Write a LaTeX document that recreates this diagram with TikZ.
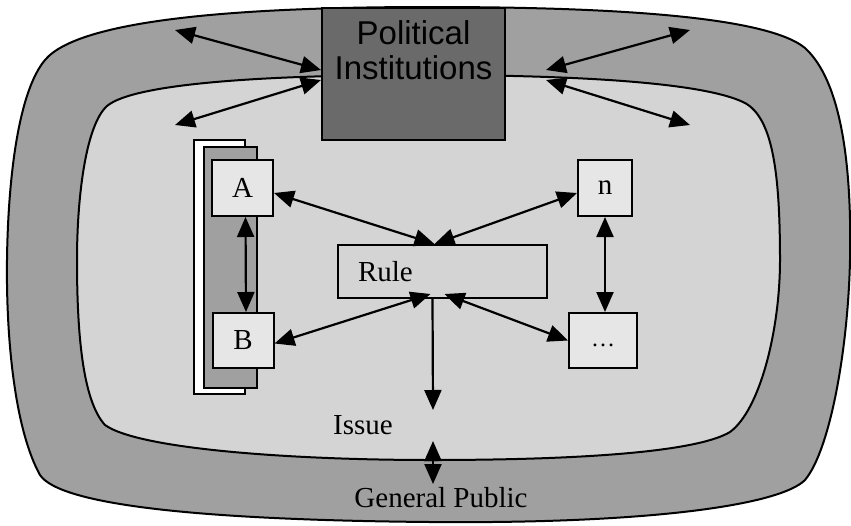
\documentclass[tikz,border=0pt]{standalone}
\usepackage{fontspec}
\setmainfont{Liberation Serif}
\newfontfamily\arialfont{Liberation Sans}
\usetikzlibrary{arrows.meta}
\definecolor{ringgray}{HTML}{A0A0A0}
\definecolor{innergray}{HTML}{D4D4D4}
\definecolor{boxgray}{HTML}{E6E6E6}
\definecolor{polgray}{HTML}{6A6A6A}

\begin{document}
\begin{tikzpicture}[
  x=1pt,y=-1pt,
  every node/.style={font=\fontsize{29}{33}\selectfont},
  actor/.style={draw,line width=2pt,fill=boxgray,minimum width=61pt,minimum height=56pt,inner sep=0pt},
  link/.style={{Triangle[length=20pt,width=17pt]}-{Triangle[length=20pt,width=17pt]},line width=2.2pt},
  oneway/.style={-{Triangle[length=20pt,width=17pt]},line width=2.2pt},
  rim/.style={draw,line width=2pt}
]
  \useasboundingbox (0,0) rectangle (851,525);

  % general public ring
  \path[rim,fill=ringgray] (430,7) .. controls (250,7) and (80,18) .. (45,60)
    .. controls (18,92) and (8,180) .. (7,260)
    .. controls (6,340) and (15,430) .. (40,475)
    .. controls (60,505) and (200,520) .. (430,522)
    .. controls (650,524) and (780,505) .. (805,480)
    .. controls (830,450) and (848,350) .. (850,260)
    .. controls (852,160) and (840,80) .. (805,48)
    .. controls (765,15) and (600,7) .. (430,7);
  % issue area
  \path[rim,fill=innergray] (420,75) .. controls (250,75) and (125,85) .. (105,108)
    .. controls (85,130) and (77,200) .. (77,260)
    .. controls (77,330) and (82,400) .. (105,425)
    .. controls (140,450) and (300,460) .. (430,460)
    .. controls (600,460) and (700,450) .. (730,432)
    .. controls (760,410) and (780,330) .. (780,260)
    .. controls (780,170) and (772,118) .. (745,103)
    .. controls (700,80) and (550,75) .. (420,75);

  \node[draw,line width=2pt,fill=polgray,minimum width=183pt,minimum height=132pt] (polinst) at (413.5,74) {};
  \node[font=\arialfont\fontsize{33}{35}\selectfont,align=center,anchor=north,inner sep=0pt] (poltext)
    at ([yshift=-13pt]polinst.north) {Political\\Institutions};

  % stacked group behind A and B
  \draw[line width=2pt,fill=white] (194,140) rectangle (245,394);
  \draw[line width=2pt,fill=ringgray] (204,147) rectangle (257,388);

  \node[actor] (boxA) at (242.5,188) {A};
  \node[actor,minimum height=55pt] (boxB) at (243,340.5) {B};
  \node[actor,minimum width=54pt] (boxN) at (605,188) {n};
  \node[actor,minimum width=68pt,minimum height=55pt] (boxD) at (603,340.5) {\fontsize{24}{28}\selectfont\strut\dots};
  \node[draw,line width=2pt,fill=innergray,minimum height=53pt,text width=169pt,
    inner xsep=20pt,inner ysep=0pt,align=left] (rule) at (442.5,271.5) {Rule};
  \node (issue) at (363,425) {Issue};
  \node (public) at (441,498) {General Public};

  \coordinate (ol) at (175,30);
  \coordinate (il) at (175,125);
  \coordinate (or) at (690,30);
  \coordinate (ir) at (690,125);
  \coordinate (issuetip) at (433,410);
  \coordinate (pubtop) at (433,441);
  \coordinate (pubbot) at (433,484);

  \draw[link] (ol) -- ([yshift=4pt]polinst.west);
  \draw[link] (il) -- ([yshift=-6pt]polinst.west);
  \draw[link] ([xshift=40pt,yshift=4pt]polinst.east) -- (or);
  \draw[link] ([xshift=40pt,yshift=-6pt]polinst.east) -- (ir);

  \draw[link] ([yshift=-5pt]boxA.east) -- ([xshift=-8pt]rule.north);
  \draw[link] ([yshift=-5pt]boxN.west) -- ([xshift=-8pt]rule.north);
  \draw[link] ([yshift=-3pt]boxB.east) -- ([xshift=-12pt,yshift=5pt]rule.south);
  \draw[link] (boxD.west) -- ([xshift=2pt,yshift=5pt]rule.south);
  \draw[link] ([xshift=3pt]boxA.south) -- ([xshift=3pt]boxB.north);
  \draw[link] (boxN.south) -- (boxN.south |- boxD.north);
  \draw[oneway] ([xshift=-10pt]rule.south) -- (issuetip);
  \draw[link] (pubtop) -- (pubbot);
\end{tikzpicture}
\end{document}
